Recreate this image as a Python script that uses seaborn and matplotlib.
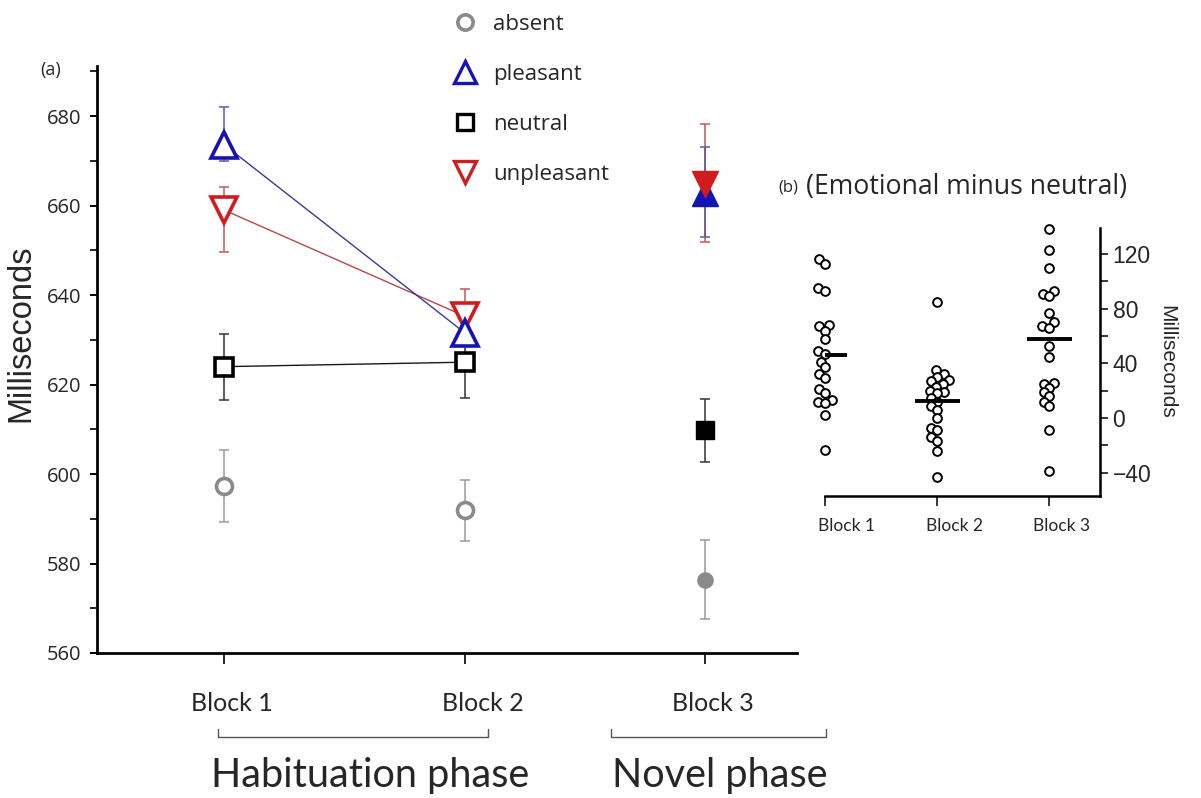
import numpy as np
import pandas as pd
import matplotlib
matplotlib.use("Agg")
import matplotlib.pyplot as plt
import matplotlib.transforms as mtransforms
from matplotlib.lines import Line2D
from matplotlib.ticker import MultipleLocator, FixedLocator
import seaborn as sns

# ---------------- data ----------------
blocks = ["Block 1", "Block 2", "Block 3"]
block_pos = [1, 2, 3]

absent_ms = [597.3, 592.0, 576.4]
absent_lo = [589.3, 585.0, 567.5]
absent_hi = [605.3, 598.6, 585.3]

pleasant_ms = [673.6, 631.6, 662.8]
pleasant_lo = [670.0, 629.8, 653.0]
pleasant_hi = [682.0, 637.4, 673.0]

neutral_ms = [624.0, 625.0, 609.8]
neutral_lo = [616.5, 617.0, 602.8]
neutral_hi = [631.3, 633.0, 616.7]

unpleasant_ms = [659.0, 635.3, 664.8]
unpleasant_lo = [649.6, 629.5, 651.8]
unpleasant_hi = [664.2, 641.3, 678.3]

# emotional minus neutral differences, per participant
diff_b1 = [116, 113, 95, 93, 68, 67, 64, 58, 49, 47, 41, 37, 32, 29, 21, 18,
           13, 12, 11, 2, -23]
diff_b2 = [85, 35, 32, 30, 28, 27, 25, 23, 20, 19, 18, 15, 12, 9, 6, 0, -7,
           -9, -14, -17, -24, -43]
diff_b3 = [138, 123, 110, 93, 91, 89, 77, 70, 67, 66, 53, 45, 26, 25, 22, 19,
           16, 12, 9, -9, -39]
diff_means = [46.4, 12.2, 57.9]

phases = ["Habituation phase", "Novel phase"]

# ---------------- figure ----------------
sns.set_theme(style="ticks")
plt.rcParams["font.family"] = ["Open Sans", "DejaVu Sans"]

W, H = 1201, 798
fig = plt.figure(figsize=(W / 100, H / 100), dpi=100)
fig.patch.set_facecolor("white")


def fx(px):
    return px / W


def fy(py):
    return 1 - py / H


def shift_labels(labels, offsets_px):
    for lab, dx in zip(labels, offsets_px):
        lab.set_transform(lab.get_transform() +
                          mtransforms.ScaledTranslation(dx / 100, 0,
                                                        fig.dpi_scale_trans))


# ---------- panel (a) ----------
axa = fig.add_axes([fx(97), fy(653), fx(797) - fx(97), fy(66) - fy(653)])
axa.set_facecolor("white")

series = [
    # name, means, lo, hi, marker, edge colour, errbar colour, line colour, size
    ("absent", absent_ms, absent_lo, absent_hi, "o", "#8a8a8a", "#9a9a9a", None, 11.5),
    ("neutral", neutral_ms, neutral_lo, neutral_hi, "s", "#000000", "#333333", "#1a1a1a", 13),
    ("unpleasant", unpleasant_ms, unpleasant_lo, unpleasant_hi, "v", "#d01c1c", "#c25a5a", "#b24a4a", 19),
    ("pleasant", pleasant_ms, pleasant_lo, pleasant_hi, "^", "#1414b4", "#5a5aa6", "#3a3a96", 19),
]

for name, ms, lo, hi, mk, ec, errc, linec, size in series:
    ms_a = np.array(ms)
    yerr = np.vstack([ms_a - np.array(lo), np.array(hi) - ms_a])
    axa.errorbar(block_pos, ms_a, yerr=yerr, fmt="none", ecolor=errc,
                 elinewidth=1.1, capsize=3.8, capthick=1.1, zorder=2)
    if linec is not None:
        df_line = pd.DataFrame({"x": block_pos[:2], "y": ms[:2]})
        sns.lineplot(data=df_line, x="x", y="y", ax=axa, color=linec,
                     linewidth=1.0, zorder=3, legend=False)
    # habituation blocks: open markers
    axa.plot(block_pos[:2], ms[:2], linestyle="none", marker=mk,
             markersize=size, markerfacecolor="white", markeredgecolor=ec,
             markeredgewidth=2.6, zorder=4)
    # novel block: filled marker
    axa.plot(block_pos[2:], ms[2:], linestyle="none", marker=mk,
             markersize=size * 0.95, markerfacecolor=ec, markeredgecolor=ec,
             markeredgewidth=1.0, zorder=5 if name != "unpleasant" else 6)

axa.set_xlim(0.471, 3.383)
axa.set_ylim(560, 691.2)
axa.yaxis.set_minor_locator(MultipleLocator(10))
axa.set_yticks(np.arange(560, 681, 20))
axa.set_xticks(block_pos)
axa.set_xticklabels(blocks, fontsize=18, fontfamily="Lato")
axa.tick_params(axis="y", which="major", length=5, width=1.4, labelsize=14.5,
                pad=6, direction="out", color="black")
axa.tick_params(axis="y", which="minor", length=5, width=1.4, direction="out")
axa.tick_params(axis="x", which="major", length=8, width=1.4, pad=20,
                direction="out")
for s in ["top", "right"]:
    axa.spines[s].set_visible(False)
for s in ["left", "bottom"]:
    axa.spines[s].set_linewidth(2.0)
    axa.spines[s].set_color("black")
axa.set_xlabel("")
axa.set_ylabel("Milliseconds", fontsize=23.5, fontfamily="Liberation Sans")
axa.yaxis.set_label_coords(-0.087, 0.545)

# x tick labels sit slightly to the right of their ticks
shift_labels(axa.get_xticklabels(), [8, 18, 8])

# phase brackets under the x axis
trans = axa.get_xaxis_transform()
y_line = (653 - 737) / (653 - 66)
y_tip = (653 - 729) / (653 - 66)
brackets = [(0.975, 2.096), (2.608, 3.504)]
for (x0, x1), ph in zip(brackets, phases):
    axa.plot([x0, x0, x1, x1], [y_tip, y_line, y_line, y_tip], transform=trans,
             color="#555555", linewidth=1.0, clip_on=False)
fig.text(fx(370), fy(775), phases[0], ha="center", va="center", fontsize=28.5,
         fontfamily="Lato")
fig.text(fx(720), fy(775), phases[1], ha="center", va="center", fontsize=28.5,
         fontfamily="Lato")

fig.text(fx(40), fy(70), "(a)", ha="left", va="center", fontsize=13)

# legend
handles = [
    Line2D([], [], linestyle="none", marker="o", markersize=11,
           markerfacecolor="white", markeredgecolor="#8a8a8a", markeredgewidth=2.6),
    Line2D([], [], linestyle="none", marker="^", markersize=16,
           markerfacecolor="white", markeredgecolor="#1414b4", markeredgewidth=2.4),
    Line2D([], [], linestyle="none", marker="s", markersize=12,
           markerfacecolor="white", markeredgecolor="#000000", markeredgewidth=2.4),
    Line2D([], [], linestyle="none", marker="v", markersize=16,
           markerfacecolor="white", markeredgecolor="#d01c1c", markeredgewidth=2.4),
]
fig.legend(handles, ["absent", "pleasant", "neutral", "unpleasant"],
           loc="upper left", bbox_to_anchor=(fx(441), fy(5)), frameon=False,
           fontsize=16, labelspacing=1.3, handletextpad=0.55,
           handlelength=1.4, borderaxespad=0)

# ---------- panel (b) ----------
axb = fig.add_axes([fx(825), fy(496), fx(1100) - fx(825), fy(228) - fy(496)])
axb.set_facecolor("none")

df_diff = pd.DataFrame({
    "block": ["Block 1"] * len(diff_b1) + ["Block 2"] * len(diff_b2) +
             ["Block 3"] * len(diff_b3),
    "diff": diff_b1 + diff_b2 + diff_b3,
})
# lay the swarm out with compact spacing, then freeze it and enlarge markers
sns.swarmplot(data=df_diff, x="block", y="diff", order=blocks, ax=axb,
              color="white", edgecolor="black", linewidth=1.4, size=3.6,
              zorder=3)
axb.set_xlim(0.0, 2.45)
axb.set_ylim(-57, 139)
fig.canvas.draw()
for coll in axb.collections:
    coll.__dict__.pop("draw", None)
    coll.set_sizes([6.3 ** 2])
    coll.set_clip_on(False)

for i, m in enumerate(diff_means):
    axb.hlines(m, i - 0.2, i + 0.2, color="black", linewidth=2.8, zorder=4)

axb.set_xlim(0.0, 2.45)
axb.set_ylim(-57, 139)
axb.yaxis.tick_right()
axb.yaxis.set_label_position("right")
axb.yaxis.set_major_locator(FixedLocator([-40, 0, 40, 80, 120]))
axb.yaxis.set_minor_locator(FixedLocator([-20, 20, 60, 100]))
axb.tick_params(axis="y", which="both", length=6, width=1.3, direction="out",
                labelsize=16.5, pad=3)
for lab in axb.get_yticklabels():
    lab.set_fontfamily("Liberation Sans")
axb.tick_params(axis="x", length=7, width=1.3, direction="out", labelsize=12.5,
                pad=9)
for lab in axb.get_xticklabels():
    lab.set_fontfamily("Lato")
shift_labels(axb.get_xticklabels(), [22, 17, 12])
for s in ["top", "left"]:
    axb.spines[s].set_visible(False)
for s in ["right", "bottom"]:
    axb.spines[s].set_linewidth(1.8)
    axb.spines[s].set_color("black")
axb.set_xlabel("")
axb.set_ylabel("Milliseconds", fontsize=15, fontfamily="Liberation Sans",
               rotation=270, labelpad=18)

fig.text(fx(778), fy(187), "(b)", ha="left", va="center", fontsize=12)
fig.text(fx(806), fy(187), "(Emotional minus neutral)", ha="left",
         va="center", fontsize=19.2)

fig.savefig("out.png", dpi=100, facecolor="white")
